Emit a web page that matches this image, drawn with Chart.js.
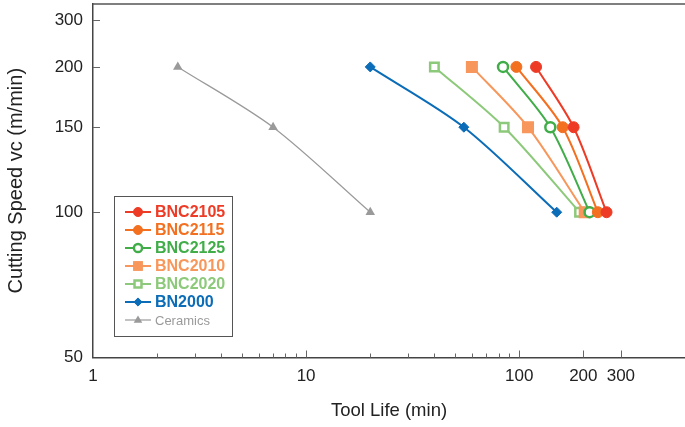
<!DOCTYPE html>
<html>
<head>
<meta charset="utf-8">
<script src="https://cdn.jsdelivr.net/npm/chart.js@4.4.1/dist/chart.umd.min.js"></script>
<style>
  html, body { margin: 0; padding: 0; background: #fff; }
</style>
</head>
<body>
<canvas id="grafico" width="685" height="427"></canvas>
<script>
// datos
const seriesNames = ['BNC2105', 'BNC2115', 'BNC2125', 'BNC2010', 'BNC2020', 'BN2000', 'Ceramics'];
const speeds = [200, 150, 100];
const lifeBNC2105 = [120, 180, 257];
const lifeBNC2115 = [97, 160, 234];
const lifeBNC2125 = [84, 140, 214];
const lifeBNC2010 = [60, 110, 203];
const lifeBNC2020 = [40, 85, 192];
const lifeBN2000 = [20, 55, 150];
const lifeCeramics = [2.5, 7, 20];

const xTickValues = [1, 10, 100, 200, 300];
const xMinorTicks = [2, 3, 4, 5, 6, 7, 8, 9, 20, 30, 40, 50, 60, 70, 80, 90];
// el original pone la marca "300" donde iria 250 en escala log
const yTickValues = [50, 100, 150, 200, 250];
const yTickLabels = ['50', '100', '150', '200', '300'];

const FONT = "'Liberation Sans', Arial, Helvetica, sans-serif";

const estilos = [
    { color: '#EE3B26', style: 'circle', r: 5.5, bw: 1, fill: true },
    { color: '#F37021', style: 'circle', r: 5.5, bw: 1, fill: true },
    { color: '#41AD49', style: 'circle', r: 5, bw: 2.5, fill: false },
    { color: '#F7975B', style: 'rect', r: 8.5, bw: 0, fill: true },
    { color: '#8DC97A', style: 'rect', r: 6, bw: 2.5, fill: false },
    { color: '#0B6CB7', style: 'rectRot', r: 5, bw: 1, fill: true },
    { color: '#9A9A9A', style: 'triangle', r: 5.5, bw: 0, fill: true }
];
const vidas = [lifeBNC2105, lifeBNC2115, lifeBNC2125, lifeBNC2010, lifeBNC2020, lifeBN2000, lifeCeramics];

const datasets = seriesNames.map((name, i) => {
    const e = estilos[i];
    return {
        label: name,
        data: vidas[i].map((v, k) => ({ x: v, y: speeds[k] })),
        borderColor: e.color,
        backgroundColor: e.fill ? e.color : '#fff',
        borderWidth: name == 'Ceramics' ? 1.2 : 2,
        tension: 0.3,
        pointStyle: e.style,
        pointRadius: e.r,
        pointHoverRadius: e.r,
        pointBorderWidth: e.bw,
        pointBorderColor: e.color,
        pointBackgroundColor: e.fill ? e.color : '#fff'
    };
});

function marcador(ctx, e, x, y, r) {
    ctx.beginPath();
    if (e.style == 'circle') {
        ctx.arc(x, y, r, 0, Math.PI * 2);
    } else if (e.style == 'rect') {
        const s = r * Math.SQRT1_2;
        ctx.rect(x - s, y - s, 2 * s, 2 * s);
    } else if (e.style == 'rectRot') {
        ctx.moveTo(x - r, y); ctx.lineTo(x, y - r); ctx.lineTo(x + r, y); ctx.lineTo(x, y + r); ctx.closePath();
    } else {
        ctx.moveTo(x, y - r); ctx.lineTo(x + r * 0.95, y + r * 0.6); ctx.lineTo(x - r * 0.95, y + r * 0.6); ctx.closePath();
    }
    ctx.fillStyle = e.fill ? e.color : '#fff';
    ctx.fill();
    if (e.bw > 0) {
        ctx.lineWidth = e.bw;
        ctx.strokeStyle = e.color;
        ctx.stroke();
    }
}

const ejesPlugin = {
    id: 'ejes',
    beforeDatasetsDraw(chart) {
        const ctx = chart.ctx, a = chart.chartArea, sx = chart.scales.x, sy = chart.scales.y;
        ctx.save();
        ctx.strokeStyle = '#666';
        ctx.lineWidth = 1;
        ctx.beginPath();
        xMinorTicks.forEach(v => {
            const px = Math.round(sx.getPixelForValue(v)) + 0.5;
            ctx.moveTo(px, a.bottom); ctx.lineTo(px, a.bottom - 4);
        });
        xTickValues.slice(1).forEach(v => {
            const px = Math.round(sx.getPixelForValue(v)) + 0.5;
            ctx.moveTo(px, a.bottom); ctx.lineTo(px, a.bottom - 7);
        });
        yTickValues.slice(1).forEach(v => {
            const py = Math.round(sy.getPixelForValue(v)) + 0.5;
            ctx.moveTo(a.left, py); ctx.lineTo(a.left + 7, py);
        });
        ctx.stroke();
        ctx.strokeStyle = '#555';
        ctx.lineWidth = 1.5;
        ctx.beginPath();
        ctx.moveTo(a.left, a.top); ctx.lineTo(a.right, a.top);
        ctx.stroke();
        ctx.restore();
    }
};

const leyendaPlugin = {
    id: 'leyenda',
    afterDraw(chart) {
        const ctx = chart.ctx;
        ctx.save();
        ctx.strokeStyle = '#555';
        ctx.lineWidth = 1;
        ctx.strokeRect(114.5, 196.5, 118, 140);
        seriesNames.forEach((name, i) => {
            const e = estilos[i];
            const y = 212 + i * 18;
            ctx.strokeStyle = e.color;
            ctx.lineWidth = name == 'Ceramics' ? 1.2 : 2;
            ctx.beginPath();
            ctx.moveTo(125, y); ctx.lineTo(151, y);
            ctx.stroke();
            marcador(ctx, e, 138, y, e.r * 0.82);
            ctx.fillStyle = e.color;
            ctx.textBaseline = 'middle';
            ctx.textAlign = 'left';
            ctx.font = name == 'Ceramics' ? '13px ' + FONT : 'bold 16px ' + FONT;
            ctx.fillText(name, 155, y + 1);
        });
        ctx.restore();
    }
};

new Chart(document.getElementById('grafico'), {
    type: 'line',
    data: { datasets: datasets },
    plugins: [ejesPlugin, leyendaPlugin],
    options: {
        responsive: false,
        animation: false,
        layout: { autoPadding: false, padding: { top: 4, right: 0, left: 0, bottom: 0 } },
        plugins: { legend: { display: false }, tooltip: { enabled: false } },
        scales: {
            x: {
                type: 'logarithmic',
                min: 1,
                max: 600,
                afterBuildTicks: s => { s.ticks = xTickValues.map(v => ({ value: v })); },
                afterFit: s => { s.height = 69.5; s.paddingLeft = 0; s.paddingRight = 0; },
                ticks: { autoSkip: false, maxRotation: 0, padding: 9, color: '#222', font: { size: 17, family: FONT }, callback: v => String(v) },
                grid: { display: false, drawTicks: false },
                border: { display: true, color: '#444', width: 1.5 },
                title: { display: true, text: 'Tool Life (min)', color: '#222', font: { size: 18.5, family: FONT }, padding: 5 }
            },
            y: {
                type: 'logarithmic',
                min: 50,
                max: 270,
                afterBuildTicks: s => { s.ticks = yTickValues.map(v => ({ value: v })); },
                afterFit: s => { s.width = 93; s.paddingTop = 0; s.paddingBottom = 0; },
                ticks: { autoSkip: false, padding: 10, color: '#222', font: { size: 17, family: FONT }, callback: (v, i) => yTickLabels[i] },
                grid: { display: false, drawTicks: false },
                border: { display: true, color: '#444', width: 1.5 },
                title: { display: true, text: 'Cutting Speed vc (m/min)', color: '#222', font: { size: 20, family: FONT }, padding: 4 }
            }
        }
    }
});
</script>
</body>
</html>
